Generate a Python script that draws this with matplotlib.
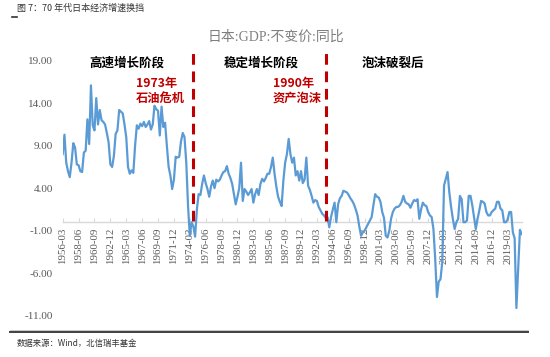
import matplotlib
matplotlib.use("Agg")
import matplotlib.pyplot as plt
from matplotlib.lines import Line2D

plt.rcParams['font.family'] = ['Liberation Serif', 'Noto Sans CJK SC']
plt.rcParams['axes.unicode_minus'] = False

# 日本 GDP 不变价 同比, 季度, 1956Q1 - 2021Q1
gdp_yoy = [
    8.0, 10.3, 7.0, 6.0, 5.3, 7.0, 9.3, 8.8, 6.8, 6.7,
    6.0, 5.9, 8.2, 8.4, 12.1, 9.2, 16.1, 11.4, 10.8, 14.6,
    11.5, 13.2, 12.0, 11.8, 11.5, 10.5, 9.4, 6.8, 6.5, 7.8,
    10.4, 10.8, 13.2, 13.0, 12.8, 11.5, 10.0, 6.5, 5.7, 6.1,
    5.8, 9.0, 11.4, 11.0, 11.6, 11.3, 11.8, 11.2, 11.5, 11.9,
    10.9, 11.5, 13.7, 13.3, 13.1, 10.2, 13.6, 11.2, 11.7, 9.0,
    6.5, 5.5, 3.9, 5.0, 7.7, 7.6, 7.7, 9.5, 10.5, 10.0,
    7.0, 1.9, -1.6, 0.0, -0.5, -1.7, 1.5, 3.3, 3.2, 4.5,
    5.5, 4.6, 3.9, 3.0, 4.2, 4.9, 4.0, 5.0, 4.8, 5.0,
    5.5, 5.9, 6.0, 6.6, 5.7, 5.2, 4.5, 3.3, 2.1, 3.0,
    4.0, 7.0, 2.5, 3.9, 3.6, 3.2, 3.5, 3.9, 2.3, 3.3,
    3.9, 3.2, 4.5, 5.1, 4.8, 5.2, 5.7, 5.7, 6.5, 7.6,
    5.7, 4.2, 3.0, 2.4, 1.9, 4.9, 7.0, 8.0, 9.8, 8.0,
    7.0, 7.6, 5.5, 6.0, 4.9, 6.0, 4.6, 5.0, 7.6, 4.3,
    3.8, 3.1, 2.3, 2.6, 2.5, 1.8, 1.4, 1.0, 0.8, 0.5,
    0.6, -0.6, 0.6, 1.5, 2.3, 0.0, 2.1, 2.8, 3.1, 3.7,
    3.6, 3.5, 3.2, 2.8, 2.5, 2.1, 1.5, 0.8, -0.5, -1.6,
    -1.2, -1.0, -0.6, -0.2, 0.2, 0.6, 2.0, 3.3, 3.0, 2.9,
    2.4, 1.2, 0.5, -1.6, -1.8, -1.0, 0.4, 1.2, 1.6, 1.8,
    1.8, 2.0, 2.4, 3.1, 2.4, 2.2, 2.1, 1.7, 2.2, 2.6,
    2.5, 2.7, 0.4, 1.5, 2.3, 2.0, 1.9, 1.2, 0.8, 0.6,
    -0.8, -4.3, -8.8, -7.0, -6.7, -4.7, 4.3, 5.1, 5.9, 3.5,
    1.8, 0.4, -0.8, 0.0, 0.4, 3.1, 2.7, 0.0, 0.0, 0.2,
    3.1, 3.1, 2.0, 0.6, -0.8, 0.4, 1.4, 2.5, 2.4, 2.2,
    1.2, 0.8, 0.8, 1.2, 1.4, 1.6, 2.4, 2.4, 1.6, 1.4,
    0.0, 0.0, 0.3, 1.2, 1.2, -1.2, -1.9, -10.1, -5.5, -0.9,
    -1.4,
]
quarters = list(range(len(gdp_yoy)))

tick_pos = list(range(0, 253, 9))
tick_labels = ['1956-03', '1958-06', '1960-09', '1962-12', '1965-03', '1967-06',
               '1969-09', '1971-12', '1974-03', '1976-06', '1978-09', '1980-12',
               '1983-03', '1985-06', '1987-09', '1989-12', '1992-03', '1994-06',
               '1996-09', '1998-12', '2001-03', '2003-06', '2005-09', '2007-12',
               '2010-03', '2012-06', '2014-09', '2016-12', '2019-03']

# 两次冲击的位置(季度序号)
shock_pos = [73.6, 149.4]

W, H = 550, 357
fig = plt.figure(figsize=(5.5, 3.57), dpi=100)
ax = fig.add_axes([62.7 / W, 1 - 315.7 / H, (521.7 - 62.7) / W, (315.7 - 60.7) / H])

# 横轴放在 0 处 (先设置, 否则会重置刻度)
for s in ['left', 'right', 'top']:
    ax.spines[s].set_visible(False)
ax.spines['bottom'].set_position(('data', 0))
ax.spines['bottom'].set_color('#D9D9D9')
ax.spines['bottom'].set_linewidth(1.0)

ax.plot(quarters, gdp_yoy, color='#5B9BD5', lw=1.6, zorder=3)
for p in shock_pos:
    ax.plot([p, p], [0.2, 20.0], color='#C00000', lw=2.2, ls=(0, (3.5, 2.2)),
            clip_on=False, zorder=4)

ax.set_xlim(0, 260)
ax.set_ylim(-11, 19)
ax.set_yticks([-11, -6, -1, 4, 9, 14, 19])
ax.set_yticklabels(['%.2f' % v for v in [-11, -6, -1, 4, 9, 14, 19]])
ax.set_xticks(tick_pos)
ax.set_xticklabels(tick_labels)

ax.tick_params(axis='y', length=0, pad=7, labelsize=8, labelcolor='#595959')
ax.tick_params(axis='x', direction='in', length=3, color='#D9D9D9', pad=4,
               labelsize=7.8, labelcolor='#595959', labelrotation=90)

def px(x, y):
    return x / W, 1 - y / H

fig.text(*px(276, 37), '日本:GDP:不变价:同比', ha='center', va='center',
         fontsize=10, color='#7F7F7F')

cjk = ['Noto Sans CJK SC', 'DejaVu Sans']
fig.text(*px(127, 62.7), '高速增长阶段', ha='center', va='center', fontsize=9,
         fontweight='bold', family=cjk, color='black')
fig.text(*px(261.7, 62.7), '稳定增长阶段', ha='center', va='center', fontsize=9,
         fontweight='bold', family=cjk, color='black')
fig.text(*px(392.5, 63.3), '泡沫破裂后', ha='center', va='center', fontsize=9,
         fontweight='bold', family=cjk, color='black')
fig.text(*px(136, 83.3), '1973年', ha='left', va='center', fontsize=8.8,
         fontweight='bold', family=cjk, color='#C00000')
fig.text(*px(136, 98.3), '石油危机', ha='left', va='center', fontsize=8.8,
         fontweight='bold', family=cjk, color='#C00000')
fig.text(*px(272.7, 83.3), '1990年', ha='left', va='center', fontsize=8.8,
         fontweight='bold', family=cjk, color='#C00000')
fig.text(*px(272.7, 98.3), '资产泡沫', ha='left', va='center', fontsize=8.8,
         fontweight='bold', family=cjk, color='#C00000')

# 页眉页脚
fig.text(*px(17, 8), '图 7：70 年代日本经济增速换挡', ha='left', va='center',
         fontsize=6.5, family=cjk, color='#333333')
fig.add_artist(Line2D([12 / W, 17 / W], [1 - 17 / H, 1 - 17 / H], color='#333333', lw=1.2))
fig.add_artist(Line2D([10 / W, 528 / W], [1 - 329.5 / H, 1 - 329.5 / H], color='#BFBFBF', lw=0.6))
fig.add_artist(Line2D([10 / W, 528 / W], [1 - 331.7 / H, 1 - 331.7 / H], color='#404040', lw=1.4))
fig.text(*px(17, 343), '数据来源：Wind，北信瑞丰基金', ha='left', va='center',
         fontsize=6, family=cjk, color='#333333')

fig.savefig('out.png', dpi=100)
